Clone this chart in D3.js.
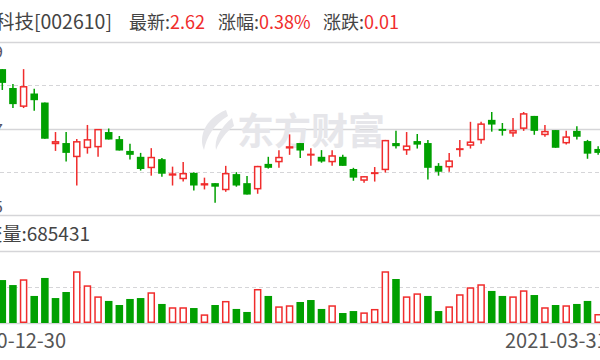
<!DOCTYPE html>
<html>
<head>
<meta charset="utf-8">
<script src="https://cdn.jsdelivr.net/npm/d3@7/dist/d3.min.js"></script>
<style>
  body { margin: 0; background: #fff; }
  svg { display: block; font-family: "Noto Sans CJK SC", "Noto Sans", sans-serif; }
</style>
</head>
<body>
<svg id="chart" width="600" height="360"></svg>
<script>
(function() {
  "use strict";

  // daily candles, 2020-12-30 .. 2021-03-31
  var opens = [2.821, 2.773, 2.725, 2.759, 2.736, 2.630, 2.633, 2.597, 2.620, 2.622,
    2.661, 2.643, 2.613, 2.598, 2.569, 2.592, 2.550, 2.541, 2.557, 2.525,
    2.531, 2.513, 2.554, 2.531, 2.515, 2.580, 2.584, 2.619, 2.633, 2.603,
    2.598, 2.584, 2.598, 2.567, 2.537, 2.555, 2.564, 2.633, 2.614, 2.638,
    2.633, 2.575, 2.571, 2.619, 2.626, 2.640, 2.692, 2.669, 2.657, 2.669,
    2.702, 2.653, 2.666, 2.632, 2.664, 2.638, 2.618];
  var highs = [2.821, 2.783, 2.821, 2.771, 2.736, 2.661, 2.661, 2.643, 2.679, 2.669,
    2.670, 2.651, 2.631, 2.608, 2.620, 2.595, 2.573, 2.585, 2.559, 2.545,
    2.531, 2.575, 2.559, 2.549, 2.575, 2.598, 2.615, 2.655, 2.633, 2.620,
    2.615, 2.615, 2.603, 2.570, 2.549, 2.572, 2.641, 2.664, 2.661, 2.656,
    2.641, 2.582, 2.608, 2.641, 2.687, 2.687, 2.712, 2.684, 2.697, 2.712,
    2.702, 2.679, 2.666, 2.664, 2.676, 2.641, 2.625];
  var lows = [2.768, 2.722, 2.722, 2.715, 2.644, 2.613, 2.586, 2.525, 2.606, 2.598,
    2.642, 2.614, 2.591, 2.563, 2.550, 2.547, 2.525, 2.535, 2.512, 2.515,
    2.481, 2.509, 2.522, 2.502, 2.504, 2.568, 2.570, 2.603, 2.595, 2.575,
    2.583, 2.575, 2.575, 2.537, 2.532, 2.535, 2.558, 2.619, 2.603, 2.619,
    2.540, 2.550, 2.560, 2.598, 2.619, 2.631, 2.662, 2.652, 2.649, 2.664,
    2.654, 2.649, 2.621, 2.629, 2.642, 2.593, 2.603];
  var closes = [2.786, 2.732, 2.778, 2.742, 2.644, 2.638, 2.608, 2.638, 2.643, 2.669,
    2.642, 2.614, 2.603, 2.567, 2.598, 2.555, 2.556, 2.557, 2.525, 2.531,
    2.522, 2.557, 2.525, 2.502, 2.575, 2.570, 2.598, 2.625, 2.614, 2.606,
    2.586, 2.602, 2.575, 2.545, 2.549, 2.559, 2.641, 2.625, 2.627, 2.629,
    2.570, 2.560, 2.589, 2.620, 2.637, 2.683, 2.680, 2.664, 2.666, 2.709,
    2.664, 2.664, 2.621, 2.650, 2.649, 2.606, 2.608];
  var volumes = [3270000, 2890000, 3330000, 2060000, 3430000, 1900000, 2360000, 3940000, 2870000, 2030000,
    1680000, 1370000, 1830000, 1900000, 2340000, 1450000, 1200000, 1200000, 1140000, 660000,
    1370000, 1680000, 1070000, 840000, 2590000, 2060000, 1270000, 1350000, 1600000, 1750000,
    1070000, 1350000, 760000, 910000, 810000, 1070000, 3940000, 3350000, 2030000, 2260000,
    2060000, 910000, 1270000, 2190000, 2720000, 2950000, 2440000, 2060000, 2030000, 2490000,
    2130000, 1200000, 1370000, 1350000, 1450000, 1680000, 685431];
  var priceTicks = [2.89, 2.67, 2.45];
  var dateLabels = ["2020-12-30", "2021-03-31"];

  var RED = "#f02c2c", GREEN = "#00a000", GRID = "#d5d5d8", TEXT = "#444";

  var svg = d3.select("#chart");
  var n = closes.length;

  var x = d3.scaleBand()
    .domain(d3.range(n))
    .range([-3.02, 603.46])
    .paddingInner(0.29)
    .paddingOuter(0.145);
  var bw = x.bandwidth();

  var y = d3.scaleLinear()
    .domain([priceTicks[2], priceTicks[0]])
    .range([215, 42]);

  var yv = d3.scaleLinear()
    .domain([0, 5460000])
    .range([323, 251.3]);

  /* ------- GRID -------*/
  var grid = svg.append("g").attr("class", "grid");
  var priceLines = [priceTicks[0], (priceTicks[0] + priceTicks[1]) / 2, priceTicks[1],
    (priceTicks[1] + priceTicks[2]) / 2, priceTicks[2]];
  grid.selectAll("line.p")
    .data(priceLines)
    .enter()
    .append("line")
    .attr("x1", 0).attr("x2", 600)
    .attr("y1", function(d) { return Math.round(y(d)) + 0.5; })
    .attr("y2", function(d) { return Math.round(y(d)) + 0.5; })
    .attr("stroke", GRID)
    .attr("stroke-width", function(d, i) { return i % 2 ? 1 : 1.5; })
    .attr("stroke-dasharray", function(d, i) { return i % 2 ? "4,3" : null; });

  var volLines = [yv.domain()[1], yv.domain()[1] / 2, 0];
  grid.selectAll("line.v")
    .data(volLines)
    .enter()
    .append("line")
    .attr("x1", 0).attr("x2", 600)
    .attr("y1", function(d) { return Math.round(yv(d)) + 0.5; })
    .attr("y2", function(d) { return Math.round(yv(d)) + 0.5; })
    .attr("stroke", GRID)
    .attr("stroke-width", function(d, i) { return i === 1 ? 1 : 1.5; })
    .attr("stroke-dasharray", function(d, i) { return i === 1 ? "4,3" : null; });

  /* ------- WATERMARK -------*/
  var wm = svg.append("g").attr("class", "watermark").attr("fill", "#e6e6ea");
  wm.append("path")
    .attr("d", "M226,110 C206,118 198,136 204,150 C206,138 214,124 228,116 Z " +
      "M232,118 C220,128 214,140 216,150 C220,140 226,132 234,126 Z");
  wm.append("text")
    .attr("x", 237).attr("y", 145)
    .attr("font-size", 37)
    .attr("font-weight", "bold")
    .text("东方财富");

  /* ------- CANDLES -------*/
  var candles = svg.append("g").attr("class", "candles")
    .selectAll("g")
    .data(d3.range(n))
    .enter()
    .append("g");

  function isUp(i) { return closes[i] >= opens[i]; }

  candles.append("line")
    .attr("x1", function(i) { return x(i) + bw / 2; })
    .attr("x2", function(i) { return x(i) + bw / 2; })
    .attr("y1", function(i) { return y(highs[i]); })
    .attr("y2", function(i) { return y(lows[i]); })
    .attr("stroke", function(i) { return isUp(i) ? RED : GREEN; })
    .attr("stroke-width", 1.5);

  candles.append("rect")
    .attr("x", function(i) { return isUp(i) ? x(i) + 0.75 : x(i); })
    .attr("width", function(i) { return isUp(i) ? bw - 1.5 : bw; })
    .attr("y", function(i) {
      var t = y(Math.max(opens[i], closes[i]));
      return isUp(i) ? t + 0.75 : t;
    })
    .attr("height", function(i) {
      var h = Math.abs(y(opens[i]) - y(closes[i]));
      return isUp(i) ? Math.max(h - 1.5, 0.5) : Math.max(h, 1.5);
    })
    .attr("fill", function(i) { return isUp(i) ? "#fff" : GREEN; })
    .attr("stroke", function(i) { return isUp(i) ? RED : "none"; })
    .attr("stroke-width", 1.5);

  /* ------- VOLUME -------*/
  // volume colour follows close vs previous close
  function volUp(i) { return i === 0 ? isUp(0) : closes[i] >= closes[i - 1]; }

  svg.append("g").attr("class", "volume")
    .selectAll("rect")
    .data(d3.range(n))
    .enter()
    .append("rect")
    .attr("x", function(i) { return volUp(i) ? x(i) + 0.75 : x(i); })
    .attr("width", function(i) { return volUp(i) ? bw - 1.5 : bw; })
    .attr("y", function(i) { return volUp(i) ? yv(volumes[i]) + 0.75 : yv(volumes[i]); })
    .attr("height", function(i) {
      var h = yv(0) - yv(volumes[i]);
      return volUp(i) ? h - 1.5 : h;
    })
    .attr("fill", function(i) { return volUp(i) ? "#fff" : GREEN; })
    .attr("stroke", function(i) { return volUp(i) ? RED : "none"; })
    .attr("stroke-width", 1.5);

  /* ------- TEXTS -------*/
  var last = n - 1;
  var title = [
    { x: 112, anchor: "end", size: 19.5, parts: [["爱康科技[002610]", TEXT]] },
    { x: 129, anchor: "start", size: 18, parts: [["最新:", TEXT], ["2.62", RED]] },
    { x: 218, anchor: "start", size: 18, parts: [["涨幅:", TEXT], ["0.38%", RED]] },
    { x: 323, anchor: "start", size: 18, parts: [["涨跌:", TEXT], ["0.01", RED]] }
  ];
  var tt = svg.append("g").attr("class", "title")
    .selectAll("text")
    .data(title)
    .enter()
    .append("text")
    .attr("x", function(d) { return d.x; })
    .attr("y", 28.5)
    .attr("font-size", function(d) { return d.size; })
    .attr("text-anchor", function(d) { return d.anchor; });
  tt.selectAll("tspan")
    .data(function(d) { return d.parts; })
    .enter()
    .append("tspan")
    .attr("fill", function(p) { return p[1]; })
    .text(function(p) { return p[0]; });

  svg.append("text")
    .attr("x", 90).attr("y", 240.5)
    .attr("font-size", 19)
    .attr("text-anchor", "end")
    .attr("fill", TEXT)
    .text("成交量:" + volumes[last]);

  // price labels sit just past the left edge, only their tails show
  var labelY = [57.5, 136, 213];
  svg.append("g").attr("class", "axis")
    .selectAll("text")
    .data(priceTicks)
    .enter()
    .append("text")
    .attr("x", 3)
    .attr("y", function(d, i) { return labelY[i]; })
    .attr("font-size", 17)
    .attr("text-anchor", "end")
    .attr("fill", "#556")
    .text(function(d) { return d.toFixed(2); });

  svg.append("g").attr("class", "dates")
    .selectAll("text")
    .data(dateLabels)
    .enter()
    .append("text")
    .attr("x", function(d, i) { return i === 0 ? 66 : 505; })
    .attr("y", 347.5)
    .attr("font-size", 20)
    .attr("text-anchor", function(d, i) { return i === 0 ? "end" : "start"; })
    .attr("fill", "#555")
    .text(function(d) { return d; });
})();
</script>
</body>
</html>
